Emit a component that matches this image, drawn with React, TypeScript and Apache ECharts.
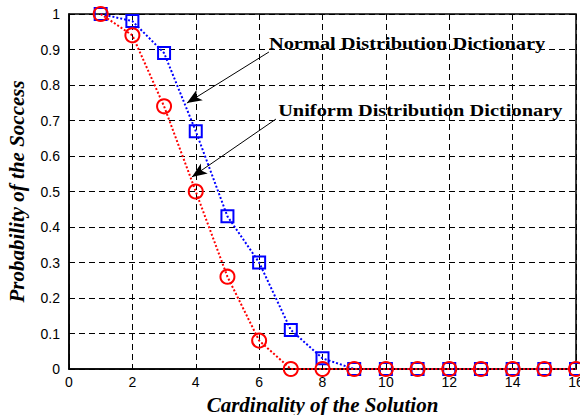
import React, { useEffect, useRef } from "react";
import * as echarts from "echarts";

const cardinality = [1, 2, 3, 4, 5, 6, 7, 8, 9, 10, 11, 12, 13, 14, 15, 16];
const normalDict = [1.0, 0.98, 0.89, 0.67, 0.43, 0.3, 0.11, 0.03, 0, 0, 0, 0, 0, 0, 0, 0];
const uniformDict = [1.0, 0.94, 0.74, 0.5, 0.26, 0.08, 0, 0, 0, 0, 0, 0, 0, 0, 0, 0];

const annotationTexts = ["Normal Distribution Dictionary", "Uniform Distribution Dictionary"];
const annotationTextAt = [
  [6.31, 0.918],
  [6.6, 0.73],
];
const arrowTail = [
  [6.31, 0.893],
  [6.53, 0.704],
];
const arrowHead = [
  [3.72, 0.749],
  [3.88, 0.541],
];

export default function App() {
  const ref = useRef<HTMLDivElement>(null);
  useEffect(() => {
    if (!ref.current) return;
    const chart = echarts.init(ref.current, null, { renderer: "svg" });
    const tickFont = { fontFamily: "Liberation Sans", fontSize: 14, color: "#000" };
    const titleFont = {
      fontFamily: "Liberation Serif",
      fontSize: 21,
      fontWeight: "bold" as const,
      fontStyle: "italic" as const,
      color: "#000",
    };
    const split = { show: true, lineStyle: { color: "#000", type: [6, 4], width: 1 } };
    chart.setOption({
      animation: false,
      backgroundColor: "#fff",
      grid: {
        left: 69,
        top: 14,
        width: 507,
        height: 355,
        show: true,
        borderColor: "#000",
        borderWidth: 1.5,
        backgroundColor: "transparent",
        containLabel: false,
        outerBoundsMode: "none",
      },
      xAxis: {
        type: "value",
        min: 0,
        max: 16,
        interval: 2,
        name: "Cardinality of the Solution",
        nameLocation: "middle",
        nameGap: 25,
        nameTextStyle: titleFont,
        axisLine: { show: true, lineStyle: { color: "#000", width: 1.5 } },
        axisTick: { show: true, inside: true, length: 5, lineStyle: { color: "#000" } },
        axisLabel: { ...tickFont, margin: 6 },
        splitLine: split,
      },
      yAxis: {
        type: "value",
        min: 0,
        max: 1,
        interval: 0.1,
        name: "Probability of the Soccess",
        nameLocation: "middle",
        nameGap: 42,
        nameRotate: 90,
        nameTextStyle: titleFont,
        axisLine: { show: true, lineStyle: { color: "#000", width: 1.5 } },
        axisTick: { show: true, inside: true, length: 5, lineStyle: { color: "#000" } },
        axisLabel: { ...tickFont, margin: 9 },
        splitLine: split,
      },
      series: [
        {
          type: "line",
          name: annotationTexts[0],
          data: cardinality.map((c, i) => [c, normalDict[i]]),
          symbol: "rect",
          symbolSize: 12,
          showAllSymbol: true,
          lineStyle: { color: "#0000ff", width: 2, type: "dotted" },
          itemStyle: { color: "rgba(0,0,0,0)", borderColor: "#0000ff", borderWidth: 2 },
          z: 3,
        },
        {
          type: "line",
          name: annotationTexts[1],
          data: cardinality.map((c, i) => [c, uniformDict[i]]),
          symbol: "circle",
          symbolSize: 14,
          showAllSymbol: true,
          lineStyle: { color: "#ff0000", width: 2, type: "dotted" },
          itemStyle: { color: "rgba(0,0,0,0)", borderColor: "#ff0000", borderWidth: 2 },
          z: 4,
        },
        {
          type: "line",
          data: [],
          markLine: {
            silent: true,
            animation: false,
            label: { show: false },
            lineStyle: { color: "#000", width: 1, type: "solid" },
            symbol: ["none", "arrow"],
            symbolSize: [9, 15],
            data: arrowTail.map((t, i) => [{ coord: t }, { coord: arrowHead[i] }]),
          },
        },
      ],
    });
    const graphics = annotationTexts.map((t, i) => {
      const p = chart.convertToPixel({ gridIndex: 0 }, annotationTextAt[i]) as number[];
      return {
        type: "text",
        x: p[0],
        y: p[1],
        scaleX: 1.2,
        style: {
          text: t,
          fontFamily: "Liberation Serif",
          fontSize: 17,
          fontWeight: "bold",
          fill: "#000",
          textAlign: "left",
          textVerticalAlign: "middle",
        },
        z: 10,
      };
    });
    chart.setOption({ graphic: graphics });
    return () => chart.dispose();
  }, []);
  return (
    <div
      ref={ref}
      style={{ position: "fixed", left: 0, top: 0, width: 580, height: 415 }}
    />
  );
}
